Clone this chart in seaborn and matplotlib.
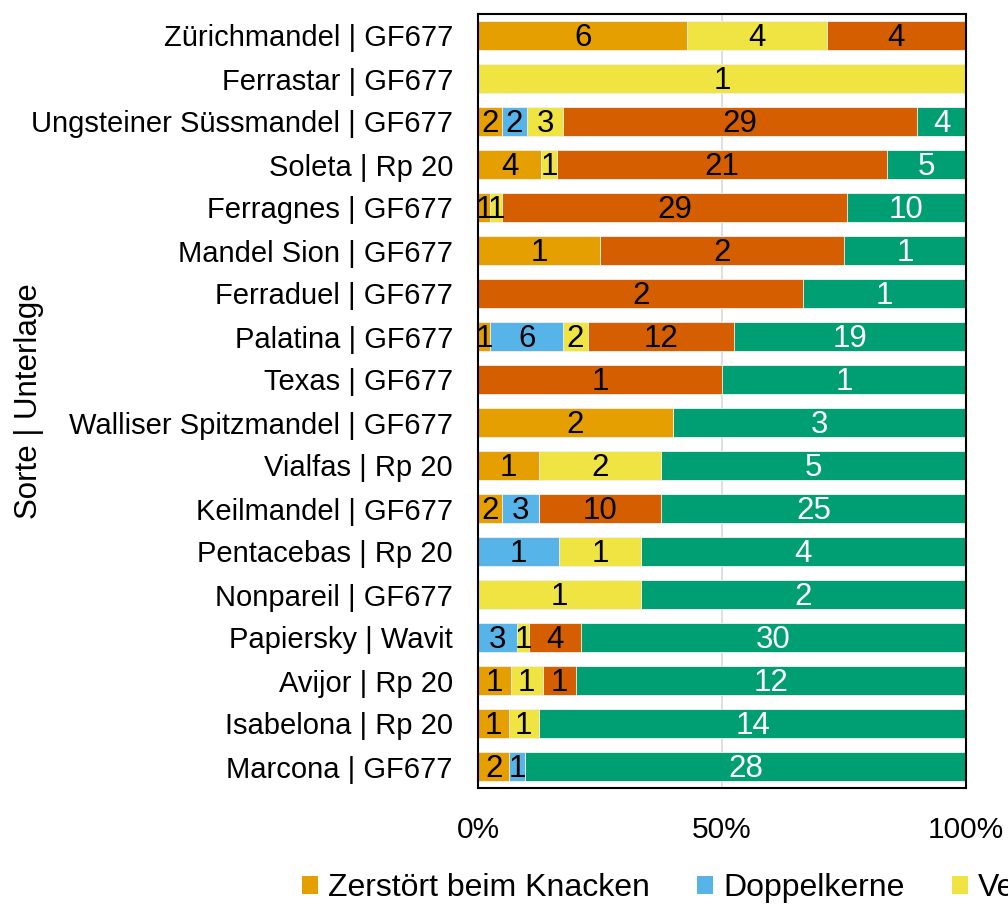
import numpy as np
import pandas as pd
import seaborn as sns
import matplotlib.pyplot as plt
from matplotlib.patches import Patch

sorten = [
    "Zürichmandel | GF677", "Ferrastar | GF677", "Ungsteiner Süssmandel | GF677",
    "Soleta | Rp 20", "Ferragnes | GF677", "Mandel Sion | GF677", "Ferraduel | GF677",
    "Palatina | GF677", "Texas | GF677", "Walliser Spitzmandel | GF677",
    "Vialfas | Rp 20", "Keilmandel | GF677", "Pentacebas | Rp 20",
    "Nonpareil | GF677", "Papiersky | Wavit", "Avijor | Rp 20",
    "Isabelona | Rp 20", "Marcona | GF677",
]
kategorien = ["Zerstört beim Knacken", "Doppelkerne", "Verwachsen", "Beschädigt", "Einwandfrei"]

zerstoert   = [6, 0, 2, 4, 1, 1, 0, 1, 0, 2, 1, 2, 0, 0, 0, 1, 1, 2]
doppel      = [0, 0, 2, 0, 0, 0, 0, 6, 0, 0, 0, 3, 1, 0, 3, 0, 0, 1]
verwachsen  = [4, 1, 3, 1, 1, 0, 0, 2, 0, 0, 2, 0, 1, 1, 1, 1, 1, 0]
beschaedigt = [4, 0, 29, 21, 29, 2, 2, 12, 1, 0, 0, 10, 0, 0, 4, 1, 0, 0]
einwandfrei = [0, 0, 4, 5, 10, 1, 1, 19, 1, 3, 5, 25, 4, 2, 30, 12, 14, 28]

farben = ["#E69F00", "#56B4E9", "#F0E442", "#D55E00", "#009E73"]
textfarben = ["black", "black", "black", "black", "white"]

sns.set_theme(style="white")
plt.rcParams["font.family"] = ["Liberation Sans", "DejaVu Sans"]
plt.rcParams["text.color"] = "black"
plt.rcParams["axes.labelcolor"] = "black"
plt.rcParams["xtick.color"] = "black"
plt.rcParams["ytick.color"] = "black"

counts = np.array([zerstoert, doppel, verwachsen, beschaedigt, einwandfrei], dtype=float)
totals = counts.sum(axis=0)
pct = counts / totals * 100
cum = np.cumsum(pct, axis=0)

fig = plt.figure(figsize=(10.08, 9.06), dpi=100)
ax = fig.add_axes([478 / 1008, 1 - 788 / 906, 488 / 1008, 774 / 906])

for k in range(4, -1, -1):
    df = pd.DataFrame({"Sorte": sorten, "Wert": cum[k]})
    sns.barplot(data=df, x="Wert", y="Sorte", orient="h", color=farben[k],
                saturation=1, width=0.67, edgecolor="#f2f2f2", linewidth=0.6,
                ax=ax, order=sorten)

for k in range(5):
    for i in range(len(sorten)):
        if counts[k, i] > 0:
            mid = cum[k, i] - pct[k, i] / 2
            ax.text(mid, i + 0.05, f"{int(counts[k, i])}", ha="center", va="center",
                    fontsize=22.5, color=textfarben[k])

ax.set_xlim(0, 100)
ax.set_xticks([0, 50, 100])
ax.set_xticklabels(["0%", "50%", "100%"])
ax.set_axisbelow(True)
ax.xaxis.grid(True, color="#d9d9d9", linewidth=1.2)
ax.yaxis.grid(False)
ax.tick_params(axis="x", length=0, pad=20, labelsize=21.5, labelcolor="black")
ax.tick_params(axis="y", length=0, pad=18, labelsize=21, labelcolor="black")
ax.set_xlabel("")
ax.set_ylabel("Sorte | Unterlage", fontsize=22.5, color="black")
ax.yaxis.set_label_coords((44 - 478) / 488, 0.5)
for s in ax.spines.values():
    s.set_visible(True)
    s.set_color("black")
    s.set_linewidth(1.5)

handles = [Patch(facecolor=c, edgecolor="none", label=l) for c, l in zip(farben, kategorien)]
fig.legend(handles=handles, loc="center left", bbox_to_anchor=(302 / 1008, 1 - 888 / 906),
           ncol=5, frameon=False, fontsize=23, handlelength=0.5, handleheight=0.5,
           handletextpad=0.3, columnspacing=1.5, borderaxespad=0, borderpad=0,
           labelcolor="black")

fig.savefig("out.png", dpi=100)
